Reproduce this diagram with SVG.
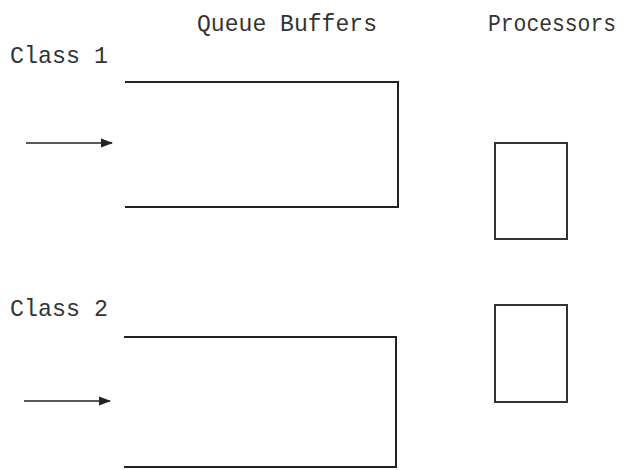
<svg xmlns="http://www.w3.org/2000/svg" width="635" height="470" viewBox="0 0 635 470">
<defs>
<marker id="ah" viewBox="0 0 12 10" refX="11" refY="5" markerWidth="12" markerHeight="10" markerUnits="userSpaceOnUse" orient="auto"><path d="M0,0.5 L12,5 L0,9.5 z" fill="#222"/></marker>
<style>
.t{font-family:"Liberation Mono","DejaVu Sans Mono",monospace;font-size:24px;fill:#333}
.ln{fill:none;stroke:#222;stroke-width:2}
.bx{fill:none;stroke:#333;stroke-width:2}
.ar{stroke:#222;stroke-width:1.6;marker-end:url(#ah)}
</style>
</defs>
<rect width="635" height="470" fill="#fff"/>
<g id="labels">
<text class="t" x="197" y="31" textLength="180" lengthAdjust="spacingAndGlyphs">Queue Buffers</text>
<text class="t" x="488" y="31" textLength="128" lengthAdjust="spacingAndGlyphs">Processors</text>
<text class="t" x="10" y="63" textLength="98" lengthAdjust="spacingAndGlyphs">Class 1</text>
<text class="t" x="10" y="316" textLength="98" lengthAdjust="spacingAndGlyphs">Class 2</text>
</g>
<g id="buffer1"><path class="ln" d="M125,82 H398 V207 H125"/></g>
<g id="buffer2"><path class="ln" d="M124,337 H396 V467 H124"/></g>
<g id="processor1"><rect class="bx" x="495" y="143" width="72" height="96"/></g>
<g id="processor2"><rect class="bx" x="495" y="305" width="72" height="97"/></g>
<g id="connectors">
<line class="ar" x1="26" y1="143" x2="112" y2="143"/>
<line class="ar" x1="24" y1="401" x2="110" y2="401"/>
</g>
</svg>
